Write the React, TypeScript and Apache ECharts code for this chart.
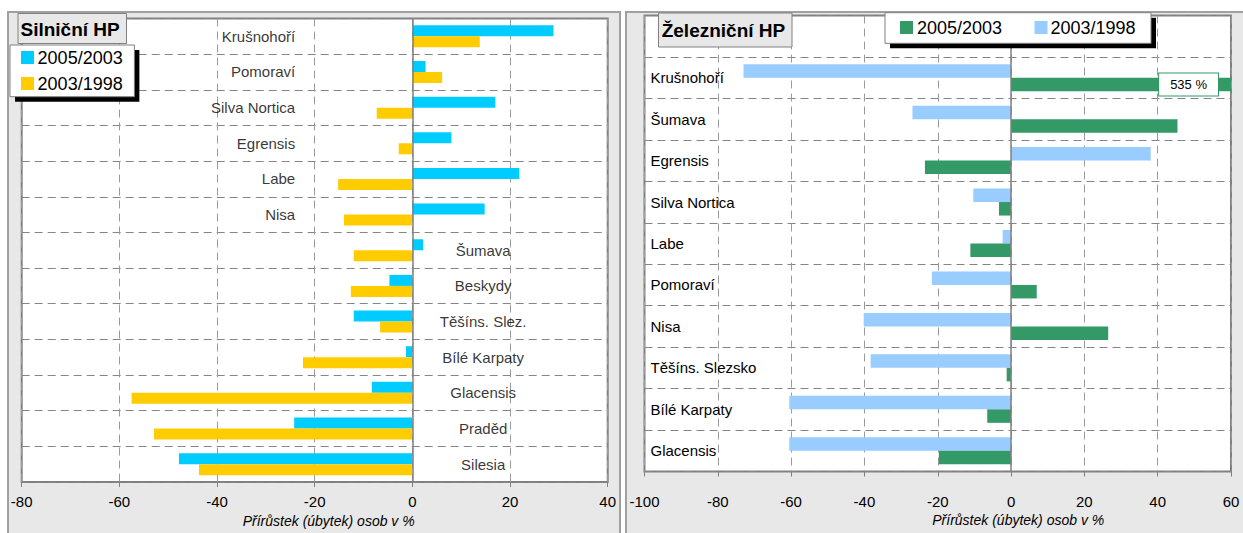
import React, { useEffect, useRef } from 'react';
import * as echarts from 'echarts';

// ---------- data ----------
const roadCategories = [
  'Krušnohoří', 'Pomoraví', 'Silva Nortica', 'Egrensis', 'Labe', 'Nisa',
  'Šumava', 'Beskydy', 'Těšíns. Slez.', 'Bílé Karpaty', 'Glacensis', 'Praděd', 'Silesia',
];
const road2005_2003 = [28.9, 2.7, 17.0, 8.0, 21.9, 14.8, 2.2, -4.7, -12.0, -1.3, -8.3, -24.2, -47.8];
const road2003_1998 = [13.8, 6.1, -7.3, -2.8, -15.2, -14.0, -12.0, -12.6, -6.6, -22.4, -57.5, -52.9, -43.7];

const railCategories = [
  '', 'Krušnohoří', 'Šumava', 'Egrensis', 'Silva Nortica', 'Labe',
  'Pomoraví', 'Nisa', 'Těšíns. Slezsko', 'Bílé Karpaty', 'Glacensis',
];
const rail2005_2003 = [null, 535, 45.4, -23.5, -3.3, -11.1, 7.0, 26.5, -1.2, -6.5, -19.7];
const rail2003_1998 = [null, -73.0, -26.9, 38.1, -10.3, -2.3, -21.6, -40.2, -38.3, -60.5, -60.5];

const roadTicks = { min: -80, max: 40, step: 20 };
const railTicks = { min: -100, max: 60, step: 20 };

const seriesNames = ['2005/2003', '2003/1998'];
const panelTitles = ['Silniční HP', 'Železniční HP'];
const axisTitle = 'Přírůstek (úbytek) osob v %';

const COLORS = {
  cyan: '#00CCFF',
  yellow: '#FFCC00',
  green: '#339966',
  lightBlue: '#99CCFF',
};

const FONT = '"Liberation Sans", Arial, sans-serif';

function buildOption(): any {
  const splitV = { show: true, lineStyle: { color: '#9a9a9a', type: [8, 5], width: 1 } };
  const splitH = { show: true, lineStyle: { color: '#858585', type: [8, 5], width: 1 } };
  const zeroLine = {
    silent: true,
    symbol: ['none', 'none'],
    label: { show: false },
    lineStyle: { color: '#808080', type: 'solid', width: 1.5 },
    data: [{ xAxis: 0 }],
  };

  const xAxisBase = (gridIndex: number, t: any, nameGap: number, shift: number, labelMargin: number) => ({
    gridIndex,
    type: 'value',
    min: t.min,
    max: t.max,
    interval: t.step,
    axisLine: { show: false },
    axisTick: { show: true, length: 5, lineStyle: { color: '#808080' } },
    axisLabel: { color: '#000', fontSize: 15, margin: labelMargin, fontFamily: FONT },
    splitLine: splitV,
    name: axisTitle,
    nameLocation: 'middle',
    nameGap,
    nameTextStyle: {
      fontStyle: 'italic',
      fontSize: 14,
      color: '#000',
      fontFamily: FONT,
      padding: [0, 0, 0, shift],
    },
  });

  const legendGroup = (
    box: { x: number; y: number; w: number; h: number },
    items: { color: string; name: string; sx: number; sy: number; tx: number; ty: number }[]
  ) => [
    {
      type: 'rect',
      z: 100,
      shape: { x: box.x + 5, y: box.y + 5, width: box.w, height: box.h },
      style: { fill: '#000' },
    },
    {
      type: 'rect',
      z: 101,
      shape: { x: box.x, y: box.y, width: box.w, height: box.h },
      style: { fill: '#fff', stroke: '#808080', lineWidth: 1 },
    },
    ...items.flatMap((it) => [
      {
        type: 'rect',
        z: 102,
        shape: { x: it.sx, y: it.sy, width: 13, height: 13 },
        style: { fill: it.color },
      },
      {
        type: 'text',
        z: 102,
        x: it.tx,
        y: it.ty,
        style: {
          text: it.name,
          fill: '#000',
          fontSize: 18,
          fontFamily: FONT,
          align: 'left',
          verticalAlign: 'middle',
        },
      },
    ]),
  ];

  const titleBox = (x: number, y: number, w: number, h: number, text: string, tx: number, ty: number) => [
    {
      type: 'rect',
      z: 100,
      shape: { x, y, width: w, height: h },
      style: { fill: '#e8e8e8', stroke: '#808080', lineWidth: 1 },
    },
    {
      type: 'text',
      z: 101,
      x: tx,
      y: ty,
      style: {
        text,
        fill: '#000',
        fontSize: 19,
        fontWeight: 'bold',
        fontFamily: FONT,
        align: 'left',
        verticalAlign: 'middle',
      },
    },
  ];

  return {
    animation: false,
    backgroundColor: '#ffffff',
    textStyle: { fontFamily: FONT },
    grid: [
      {
        left: 21.7, top: 18.5, width: 586, height: 463.5,
        show: true, backgroundColor: '#fff', borderColor: '#808080', borderWidth: 2,
      },
      {
        left: 644.5, top: 15.5, width: 586.5, height: 456,
        show: true, backgroundColor: '#fff', borderColor: '#808080', borderWidth: 2,
      },
    ],
    xAxis: [
      xAxisBase(0, roadTicks, 30, 28, 12),
      xAxisBase(1, railTicks, 40, 161, 22),
    ],
    yAxis: [
      {
        gridIndex: 0,
        type: 'category',
        inverse: true,
        data: roadCategories,
        axisLine: { show: false, onZero: false },
        axisTick: { show: false },
        axisLabel: { show: false },
        splitLine: splitH,
      },
      {
        gridIndex: 1,
        type: 'category',
        inverse: true,
        data: railCategories,
        axisLine: { show: false, onZero: false },
        axisTick: { show: false },
        axisLabel: { show: true, inside: true, margin: 6, color: '#000', fontSize: 15, fontFamily: FONT },
        splitLine: splitH,
      },
    ],
    series: [
      {
        name: seriesNames[0],
        type: 'bar',
        xAxisIndex: 0,
        yAxisIndex: 0,
        data: road2005_2003,
        barWidth: 11,
        barGap: '0%',
        itemStyle: { color: COLORS.cyan },
        markLine: zeroLine,
      },
      {
        name: seriesNames[1],
        type: 'bar',
        xAxisIndex: 0,
        yAxisIndex: 0,
        data: road2003_1998,
        barWidth: 11,
        barGap: '0%',
        itemStyle: { color: COLORS.yellow },
      },
      {
        name: 'labels',
        type: 'scatter',
        xAxisIndex: 0,
        yAxisIndex: 0,
        silent: true,
        symbolSize: 0,
        itemStyle: { color: 'transparent' },
        data: roadCategories.map((c, i) => ({
          name: c,
          value: [i < 6 ? -24 : 14.5, c],
          label: { align: i < 6 ? 'right' : 'center' },
        })),
        label: {
          show: true,
          position: 'inside',
          formatter: '{b}',
          color: '#000',
          fontSize: 15,
          fontFamily: FONT,
        },
        z: 5,
      },
      {
        name: seriesNames[1],
        type: 'bar',
        xAxisIndex: 1,
        yAxisIndex: 1,
        data: rail2003_1998,
        barWidth: 13.5,
        barGap: '0%',
        itemStyle: { color: COLORS.lightBlue },
        markLine: zeroLine,
      },
      {
        name: seriesNames[0],
        type: 'bar',
        xAxisIndex: 1,
        yAxisIndex: 1,
        clip: true,
        data: rail2005_2003.map((v) =>
          v !== null && v > railTicks.max
            ? {
                value: v,
                label: {
                  show: true,
                  position: 'insideRight',
                  distance: 13,
                  formatter: '{c} %',
                  color: '#000',
                  fontSize: 13,
                  fontFamily: FONT,
                  backgroundColor: '#fff',
                  borderColor: COLORS.green,
                  borderWidth: 1,
                  padding: [5, 11, 4, 11],
                },
              }
            : v
        ),
        barWidth: 13.5,
        barGap: '0%',
        itemStyle: { color: COLORS.green },
      },
    ],
    graphic: [
      {
        type: 'rect',
        z: -10,
        shape: { x: 8, y: 12, width: 612, height: 530 },
        style: { fill: '#e8e8e8', stroke: '#a0a0a0', lineWidth: 2 },
      },
      {
        type: 'rect',
        z: -10,
        shape: { x: 626, y: 12, width: 625, height: 530 },
        style: { fill: '#e8e8e8', stroke: '#a0a0a0', lineWidth: 2 },
      },
      ...titleBox(18, 13.5, 108.5, 30, panelTitles[0], 20.5, 29.5),
      ...titleBox(658.5, 13, 133.5, 34, panelTitles[1], 661.7, 30),
      ...legendGroup({ x: 10, y: 45, w: 124.4, h: 51.7 }, [
        { color: COLORS.cyan, name: seriesNames[0], sx: 21, sy: 51, tx: 37.6, ty: 58.3 },
        { color: COLORS.yellow, name: seriesNames[1], sx: 21, sy: 77, tx: 37.6, ty: 83.6 },
      ]),
      ...legendGroup({ x: 885, y: 12.7, w: 266, h: 30.6 }, [
        { color: COLORS.green, name: seriesNames[0], sx: 900, sy: 21, tx: 917, ty: 27.5 },
        { color: COLORS.lightBlue, name: seriesNames[1], sx: 1034.5, sy: 21, tx: 1050.5, ty: 27.5 },
      ]),
    ],
  };
}

export default function App() {
  const ref = useRef<HTMLDivElement>(null);
  useEffect(() => {
    document.body.style.margin = '0';
    if (!ref.current) return;
    const chart = echarts.init(ref.current, undefined, { renderer: 'svg' });
    chart.setOption(buildOption());
    return () => chart.dispose();
  }, []);
  return <div ref={ref} style={{ width: 1243, height: 533 }} />;
}
